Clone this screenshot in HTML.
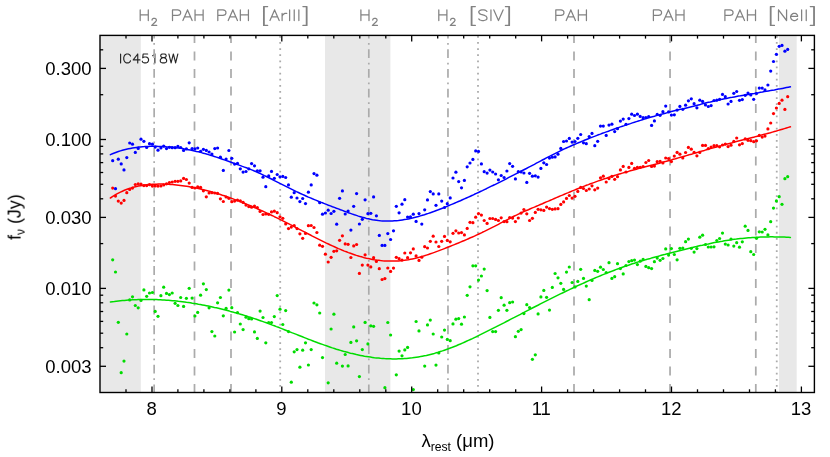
<!DOCTYPE html>
<html><head><meta charset="utf-8"><title>IC4518W</title>
<style>
html,body{margin:0;padding:0;background:#fff;}
body{width:830px;height:457px;overflow:hidden;font-family:"Liberation Sans",sans-serif;}
svg{display:block;}
text{font-family:"Liberation Sans",sans-serif;fill:#000;}
</style></head><body>
<svg width="830" height="457" viewBox="0 0 830 457">
<rect x="0" y="0" width="830" height="457" fill="#fff"/>
<rect x="100.0" y="35.4" width="40.8" height="357.1" fill="#e8e8e8"/>
<rect x="325.0" y="35.4" width="65.4" height="357.1" fill="#e8e8e8"/>
<rect x="779.0" y="35.4" width="17.7" height="357.1" fill="#e8e8e8"/>
<path d="M120.60 53.98 L120.60 62.90 M130.52 56.10 L130.07 55.25 L129.17 54.40 L128.27 53.98 L126.46 53.98 L125.56 54.40 L124.66 55.25 L124.21 56.10 L123.76 57.38 L123.76 59.50 L124.21 60.77 L124.66 61.62 L125.56 62.48 L126.46 62.90 L128.27 62.90 L129.17 62.48 L130.07 61.62 L130.52 60.77 M137.74 53.98 L133.23 59.92 L139.99 59.92 M137.74 53.98 L137.74 62.90 M147.66 53.98 L143.15 53.98 L142.70 57.80 L143.15 57.38 L144.50 56.95 L145.86 56.95 L147.21 57.38 L148.11 58.23 L148.56 59.50 L148.56 60.35 L148.11 61.62 L147.21 62.48 L145.86 62.90 L144.50 62.90 L143.15 62.48 L142.70 62.05 L142.25 61.20 M152.62 55.67 L153.52 55.25 L154.88 53.98 L154.88 62.90 M162.54 53.98 L161.19 54.40 L160.74 55.25 L160.74 56.10 L161.19 56.95 L162.09 57.38 L163.90 57.80 L165.25 58.23 L166.15 59.07 L166.60 59.92 L166.60 61.20 L166.15 62.05 L165.70 62.48 L164.35 62.90 L162.54 62.90 L161.19 62.48 L160.74 62.05 L160.29 61.20 L160.29 59.92 L160.74 59.07 L161.64 58.23 L162.99 57.80 L164.80 57.38 L165.70 56.95 L166.15 56.10 L166.15 55.25 L165.70 54.40 L164.35 53.98 L162.54 53.98 M168.86 53.98 L171.11 62.90 M173.37 53.98 L171.11 62.90 M173.37 53.98 L175.62 62.90 M177.88 53.98 L175.62 62.90" fill="none" stroke="#262626" stroke-width="1.15" stroke-linecap="round" stroke-linejoin="round"/>
<g stroke="#ababab" fill="none" clip-path="url(#pc)">
<line x1="194.5" y1="16.6" x2="194.5" y2="392.5" stroke-width="1.75" stroke-dasharray="8.9 8.6"/>
<line x1="231.0" y1="16.6" x2="231.0" y2="392.5" stroke-width="1.75" stroke-dasharray="8.9 8.6"/>
<line x1="574.0" y1="16.6" x2="574.0" y2="392.5" stroke-width="1.75" stroke-dasharray="8.9 8.6"/>
<line x1="670.05" y1="16.6" x2="670.05" y2="392.5" stroke-width="1.75" stroke-dasharray="8.9 8.6"/>
<line x1="755.8" y1="16.6" x2="755.8" y2="392.5" stroke-width="1.75" stroke-dasharray="8.9 8.6"/>
<line x1="154.15" y1="9.76" x2="154.15" y2="392.5" stroke-width="1.7" stroke-dasharray="8.9 4.6 1.8 4.42"/>
<line x1="368.8" y1="9.76" x2="368.8" y2="392.5" stroke-width="1.7" stroke-dasharray="8.9 4.6 1.8 4.42"/>
<line x1="447.97" y1="9.76" x2="447.97" y2="392.5" stroke-width="1.7" stroke-dasharray="8.9 4.6 1.8 4.42"/>
<line x1="280.2" y1="29.75" x2="280.2" y2="392.5" stroke-width="1.8" stroke-dasharray="1.8 4.325"/>
<line x1="478.0" y1="29.75" x2="478.0" y2="392.5" stroke-width="1.8" stroke-dasharray="1.8 4.325"/>
<line x1="776.75" y1="29.75" x2="776.75" y2="392.5" stroke-width="1.8" stroke-dasharray="1.8 4.325"/>
</g>
<defs><clipPath id="pc"><rect x="100.0" y="35.4" width="714.4" height="357.1"/></clipPath></defs>
<g clip-path="url(#pc)">
<g fill="#00dc00"><circle cx="112.7" cy="259.8" r="1.6"/><circle cx="115.5" cy="272.0" r="1.6"/><circle cx="118.3" cy="322.3" r="1.6"/><circle cx="121.2" cy="372.7" r="1.6"/><circle cx="124.0" cy="361.1" r="1.6"/><circle cx="126.8" cy="334.0" r="1.6"/><circle cx="129.7" cy="299.9" r="1.6"/><circle cx="132.5" cy="296.8" r="1.6"/><circle cx="135.3" cy="305.5" r="1.6"/><circle cx="138.2" cy="307.8" r="1.6"/><circle cx="141.0" cy="300.4" r="1.6"/><circle cx="143.9" cy="289.9" r="1.6"/><circle cx="146.7" cy="296.3" r="1.6"/><circle cx="149.5" cy="293.0" r="1.6"/><circle cx="152.4" cy="292.5" r="1.6"/><circle cx="155.2" cy="311.4" r="1.6"/><circle cx="158.0" cy="316.3" r="1.6"/><circle cx="160.9" cy="295.7" r="1.6"/><circle cx="163.7" cy="287.2" r="1.6"/><circle cx="166.5" cy="293.4" r="1.6"/><circle cx="169.4" cy="294.6" r="1.6"/><circle cx="172.2" cy="293.0" r="1.6"/><circle cx="175.1" cy="303.3" r="1.6"/><circle cx="177.9" cy="305.5" r="1.6"/><circle cx="180.7" cy="297.5" r="1.6"/><circle cx="183.6" cy="306.4" r="1.6"/><circle cx="186.4" cy="298.3" r="1.6"/><circle cx="189.2" cy="288.3" r="1.6"/><circle cx="192.1" cy="298.1" r="1.6"/><circle cx="194.9" cy="316.0" r="1.6"/><circle cx="197.7" cy="312.4" r="1.6"/><circle cx="200.6" cy="295.2" r="1.6"/><circle cx="203.4" cy="283.8" r="1.6"/><circle cx="206.3" cy="289.6" r="1.6"/><circle cx="209.1" cy="307.8" r="1.6"/><circle cx="211.9" cy="331.6" r="1.6"/><circle cx="214.8" cy="336.0" r="1.6"/><circle cx="217.6" cy="302.8" r="1.6"/><circle cx="220.4" cy="297.5" r="1.6"/><circle cx="223.3" cy="315.8" r="1.6"/><circle cx="226.1" cy="308.4" r="1.6"/><circle cx="228.9" cy="290.1" r="1.6"/><circle cx="231.8" cy="307.7" r="1.6"/><circle cx="234.6" cy="332.0" r="1.6"/><circle cx="237.5" cy="312.7" r="1.6"/><circle cx="240.3" cy="324.0" r="1.6"/><circle cx="243.1" cy="329.6" r="1.6"/><circle cx="246.0" cy="317.2" r="1.6"/><circle cx="248.8" cy="318.7" r="1.6"/><circle cx="251.6" cy="318.9" r="1.6"/><circle cx="254.5" cy="331.9" r="1.6"/><circle cx="257.3" cy="338.4" r="1.6"/><circle cx="260.1" cy="311.1" r="1.6"/><circle cx="263.0" cy="317.5" r="1.6"/><circle cx="265.8" cy="342.8" r="1.6"/><circle cx="268.7" cy="322.5" r="1.6"/><circle cx="271.5" cy="322.5" r="1.6"/><circle cx="274.3" cy="316.6" r="1.6"/><circle cx="277.2" cy="295.6" r="1.6"/><circle cx="280.0" cy="309.2" r="1.6"/><circle cx="282.8" cy="324.5" r="1.6"/><circle cx="285.7" cy="310.6" r="1.6"/><circle cx="288.5" cy="331.6" r="1.6"/><circle cx="291.3" cy="382.2" r="1.6"/><circle cx="294.2" cy="351.8" r="1.6"/><circle cx="297.0" cy="349.6" r="1.6"/><circle cx="299.9" cy="367.2" r="1.6"/><circle cx="302.7" cy="350.2" r="1.6"/><circle cx="305.5" cy="342.8" r="1.6"/><circle cx="308.4" cy="365.0" r="1.6"/><circle cx="311.2" cy="349.6" r="1.6"/><circle cx="314.0" cy="303.0" r="1.6"/><circle cx="316.9" cy="304.8" r="1.6"/><circle cx="319.7" cy="313.0" r="1.6"/><circle cx="322.5" cy="357.6" r="1.6"/><circle cx="328.2" cy="382.8" r="1.6"/><circle cx="331.1" cy="329.0" r="1.6"/><circle cx="333.9" cy="314.2" r="1.6"/><circle cx="336.7" cy="363.2" r="1.6"/><circle cx="342.4" cy="366.1" r="1.6"/><circle cx="345.2" cy="354.5" r="1.6"/><circle cx="348.1" cy="365.9" r="1.6"/><circle cx="350.9" cy="342.4" r="1.6"/><circle cx="353.7" cy="326.9" r="1.6"/><circle cx="356.6" cy="340.8" r="1.6"/><circle cx="359.4" cy="376.6" r="1.6"/><circle cx="362.3" cy="349.6" r="1.6"/><circle cx="365.1" cy="322.4" r="1.6"/><circle cx="367.9" cy="343.9" r="1.6"/><circle cx="370.8" cy="325.8" r="1.6"/><circle cx="373.6" cy="326.3" r="1.6"/><circle cx="384.9" cy="387.7" r="1.6"/><circle cx="387.8" cy="322.5" r="1.6"/><circle cx="390.6" cy="335.0" r="1.6"/><circle cx="396.3" cy="374.8" r="1.6"/><circle cx="399.1" cy="351.1" r="1.6"/><circle cx="402.0" cy="355.8" r="1.6"/><circle cx="404.8" cy="349.9" r="1.6"/><circle cx="407.6" cy="347.4" r="1.6"/><circle cx="413.3" cy="389.6" r="1.6"/><circle cx="416.1" cy="321.5" r="1.6"/><circle cx="419.0" cy="330.9" r="1.6"/><circle cx="424.7" cy="366.1" r="1.6"/><circle cx="427.5" cy="324.9" r="1.6"/><circle cx="430.3" cy="320.1" r="1.6"/><circle cx="433.2" cy="334.0" r="1.6"/><circle cx="436.0" cy="365.1" r="1.6"/><circle cx="438.8" cy="353.0" r="1.6"/><circle cx="441.7" cy="337.0" r="1.6"/><circle cx="444.5" cy="330.1" r="1.6"/><circle cx="447.3" cy="339.4" r="1.6"/><circle cx="450.2" cy="340.7" r="1.6"/><circle cx="453.0" cy="323.9" r="1.6"/><circle cx="455.9" cy="319.2" r="1.6"/><circle cx="458.7" cy="318.6" r="1.6"/><circle cx="461.5" cy="324.2" r="1.6"/><circle cx="464.4" cy="317.0" r="1.6"/><circle cx="467.2" cy="295.3" r="1.6"/><circle cx="470.0" cy="286.8" r="1.6"/><circle cx="472.9" cy="265.8" r="1.6"/><circle cx="475.7" cy="265.8" r="1.6"/><circle cx="478.5" cy="280.1" r="1.6"/><circle cx="481.4" cy="276.0" r="1.6"/><circle cx="484.2" cy="269.1" r="1.6"/><circle cx="487.1" cy="290.6" r="1.6"/><circle cx="489.9" cy="317.4" r="1.6"/><circle cx="492.7" cy="331.6" r="1.6"/><circle cx="495.6" cy="331.6" r="1.6"/><circle cx="498.4" cy="310.3" r="1.6"/><circle cx="501.2" cy="297.7" r="1.6"/><circle cx="504.1" cy="305.2" r="1.6"/><circle cx="506.9" cy="310.3" r="1.6"/><circle cx="509.7" cy="302.7" r="1.6"/><circle cx="512.6" cy="302.0" r="1.6"/><circle cx="515.4" cy="336.7" r="1.6"/><circle cx="518.3" cy="331.3" r="1.6"/><circle cx="521.1" cy="329.6" r="1.6"/><circle cx="523.9" cy="313.6" r="1.6"/><circle cx="526.8" cy="304.7" r="1.6"/><circle cx="529.6" cy="307.6" r="1.6"/><circle cx="532.4" cy="359.3" r="1.6"/><circle cx="535.3" cy="354.8" r="1.6"/><circle cx="538.1" cy="313.9" r="1.6"/><circle cx="540.9" cy="296.9" r="1.6"/><circle cx="543.8" cy="290.4" r="1.6"/><circle cx="546.6" cy="297.3" r="1.6"/><circle cx="549.5" cy="310.1" r="1.6"/><circle cx="552.3" cy="287.4" r="1.6"/><circle cx="555.1" cy="273.5" r="1.6"/><circle cx="558.0" cy="277.8" r="1.6"/><circle cx="560.8" cy="283.3" r="1.6"/><circle cx="563.6" cy="289.4" r="1.6"/><circle cx="566.5" cy="272.1" r="1.6"/><circle cx="569.3" cy="267.0" r="1.6"/><circle cx="572.1" cy="282.5" r="1.6"/><circle cx="575.0" cy="286.9" r="1.6"/><circle cx="577.8" cy="281.4" r="1.6"/><circle cx="580.7" cy="269.3" r="1.6"/><circle cx="583.5" cy="278.4" r="1.6"/><circle cx="586.3" cy="286.1" r="1.6"/><circle cx="589.2" cy="299.7" r="1.6"/><circle cx="592.0" cy="280.4" r="1.6"/><circle cx="594.8" cy="270.4" r="1.6"/><circle cx="597.7" cy="271.3" r="1.6"/><circle cx="600.5" cy="267.2" r="1.6"/><circle cx="603.3" cy="269.5" r="1.6"/><circle cx="606.2" cy="272.6" r="1.6"/><circle cx="609.0" cy="262.7" r="1.6"/><circle cx="611.9" cy="278.4" r="1.6"/><circle cx="614.7" cy="276.7" r="1.6"/><circle cx="617.5" cy="263.7" r="1.6"/><circle cx="620.4" cy="268.6" r="1.6"/><circle cx="623.2" cy="273.9" r="1.6"/><circle cx="626.0" cy="265.5" r="1.6"/><circle cx="628.9" cy="261.6" r="1.6"/><circle cx="631.7" cy="260.7" r="1.6"/><circle cx="634.5" cy="260.1" r="1.6"/><circle cx="637.4" cy="264.6" r="1.6"/><circle cx="640.2" cy="261.2" r="1.6"/><circle cx="643.1" cy="259.4" r="1.6"/><circle cx="645.9" cy="266.4" r="1.6"/><circle cx="648.7" cy="267.7" r="1.6"/><circle cx="651.6" cy="268.6" r="1.6"/><circle cx="654.4" cy="261.7" r="1.6"/><circle cx="657.2" cy="258.1" r="1.6"/><circle cx="660.1" cy="260.3" r="1.6"/><circle cx="662.9" cy="258.5" r="1.6"/><circle cx="665.7" cy="248.9" r="1.6"/><circle cx="668.6" cy="255.1" r="1.6"/><circle cx="671.4" cy="248.6" r="1.6"/><circle cx="674.3" cy="254.5" r="1.6"/><circle cx="677.1" cy="259.8" r="1.6"/><circle cx="679.9" cy="248.3" r="1.6"/><circle cx="682.8" cy="248.0" r="1.6"/><circle cx="685.6" cy="241.7" r="1.6"/><circle cx="688.4" cy="239.1" r="1.6"/><circle cx="691.3" cy="248.3" r="1.6"/><circle cx="694.1" cy="252.1" r="1.6"/><circle cx="696.9" cy="248.6" r="1.6"/><circle cx="699.8" cy="237.2" r="1.6"/><circle cx="702.6" cy="235.2" r="1.6"/><circle cx="705.5" cy="244.5" r="1.6"/><circle cx="708.3" cy="247.0" r="1.6"/><circle cx="711.1" cy="247.0" r="1.6"/><circle cx="714.0" cy="246.8" r="1.6"/><circle cx="716.8" cy="240.5" r="1.6"/><circle cx="719.6" cy="238.5" r="1.6"/><circle cx="722.5" cy="233.1" r="1.6"/><circle cx="725.3" cy="244.1" r="1.6"/><circle cx="728.1" cy="245.0" r="1.6"/><circle cx="731.0" cy="239.0" r="1.6"/><circle cx="733.8" cy="246.1" r="1.6"/><circle cx="736.7" cy="242.7" r="1.6"/><circle cx="739.5" cy="247.2" r="1.6"/><circle cx="742.3" cy="241.8" r="1.6"/><circle cx="745.2" cy="226.2" r="1.6"/><circle cx="748.0" cy="230.4" r="1.6"/><circle cx="750.8" cy="251.7" r="1.6"/><circle cx="753.7" cy="254.5" r="1.6"/><circle cx="756.5" cy="238.3" r="1.6"/><circle cx="759.3" cy="231.8" r="1.6"/><circle cx="762.2" cy="232.0" r="1.6"/><circle cx="765.0" cy="229.3" r="1.6"/><circle cx="767.9" cy="234.9" r="1.6"/><circle cx="770.7" cy="221.7" r="1.6"/><circle cx="773.5" cy="208.1" r="1.6"/><circle cx="776.4" cy="200.9" r="1.6"/><circle cx="779.2" cy="196.7" r="1.6"/><circle cx="782.0" cy="204.3" r="1.6"/><circle cx="784.9" cy="178.7" r="1.6"/><circle cx="787.7" cy="176.7" r="1.6"/></g>
<polyline points="110.4,302.0 112.4,301.7 114.4,301.5 116.4,301.2 118.4,301.0 120.4,300.8 122.4,300.6 124.4,300.4 126.4,300.2 128.4,300.1 130.4,300.0 132.4,299.8 134.4,299.7 136.4,299.7 138.4,299.6 140.4,299.5 142.4,299.5 144.4,299.5 146.4,299.5 148.4,299.5 150.4,299.5 152.4,299.5 154.4,299.6 156.4,299.6 158.4,299.7 160.4,299.8 162.4,299.9 164.4,300.0 166.4,300.2 168.4,300.3 170.4,300.5 172.4,300.7 174.4,300.8 176.4,301.0 178.4,301.3 180.4,301.5 182.4,301.7 184.4,302.0 186.4,302.3 188.4,302.5 190.4,302.8 192.4,303.2 194.4,303.5 196.4,303.8 198.4,304.2 200.4,304.5 202.4,304.9 204.4,305.3 206.4,305.7 208.4,306.1 210.4,306.5 212.4,306.9 214.4,307.4 216.4,307.8 218.4,308.3 220.4,308.8 222.4,309.3 224.4,309.8 226.4,310.3 228.4,310.8 230.4,311.4 232.4,311.9 234.4,312.5 236.4,313.0 238.4,313.6 240.4,314.2 242.4,314.8 244.4,315.4 246.4,316.0 248.4,316.7 250.4,317.3 252.4,318.0 254.4,318.6 256.4,319.3 258.4,320.0 260.4,320.7 262.4,321.4 264.4,322.1 266.4,322.8 268.4,323.6 270.4,324.3 272.4,325.1 274.4,325.8 276.4,326.6 278.4,327.3 280.4,328.1 282.4,328.9 284.4,329.7 286.4,330.5 288.4,331.3 290.4,332.1 292.4,332.9 294.4,333.6 296.4,334.4 298.4,335.2 300.4,336.0 302.4,336.8 304.4,337.6 306.4,338.4 308.4,339.2 310.4,339.9 312.4,340.7 314.4,341.5 316.4,342.2 318.4,343.0 320.4,343.7 322.4,344.4 324.4,345.1 326.4,345.8 328.4,346.5 330.4,347.2 332.4,347.9 334.4,348.5 336.4,349.2 338.4,349.8 340.4,350.4 342.4,351.0 344.4,351.6 346.4,352.1 348.4,352.6 350.4,353.2 352.4,353.6 354.4,354.1 356.4,354.6 358.4,355.0 360.4,355.4 362.4,355.8 364.4,356.2 366.4,356.5 368.4,356.8 370.4,357.1 372.4,357.4 374.4,357.7 376.4,357.9 378.4,358.1 380.4,358.3 382.4,358.4 384.4,358.6 386.4,358.7 388.4,358.8 390.4,358.8 392.4,358.9 394.4,358.9 396.4,358.9 398.4,358.8 400.4,358.7 402.4,358.7 404.4,358.5 406.4,358.4 408.4,358.2 410.4,358.0 412.4,357.8 414.4,357.5 416.4,357.2 418.4,356.9 420.4,356.6 422.4,356.2 424.4,355.8 426.4,355.4 428.4,354.9 430.4,354.4 432.4,353.9 434.4,353.4 436.4,352.8 438.4,352.2 440.4,351.5 442.4,350.9 444.4,350.2 446.4,349.5 448.4,348.8 450.4,348.0 452.4,347.3 454.4,346.5 456.4,345.7 458.4,344.8 460.4,344.0 462.4,343.1 464.4,342.2 466.4,341.3 468.4,340.4 470.4,339.5 472.4,338.6 474.4,337.6 476.4,336.7 478.4,335.7 480.4,334.7 482.4,333.7 484.4,332.7 486.4,331.7 488.4,330.7 490.4,329.7 492.4,328.7 494.4,327.7 496.4,326.7 498.4,325.6 500.4,324.6 502.4,323.6 504.4,322.6 506.4,321.5 508.4,320.5 510.4,319.4 512.4,318.4 514.4,317.4 516.4,316.3 518.4,315.3 520.4,314.3 522.4,313.2 524.4,312.2 526.4,311.1 528.4,310.1 530.4,309.1 532.4,308.0 534.4,307.0 536.4,306.0 538.4,305.0 540.4,303.9 542.4,302.9 544.4,301.9 546.4,300.9 548.4,299.9 550.4,298.9 552.4,297.9 554.4,296.9 556.4,295.9 558.4,294.9 560.4,293.9 562.4,293.0 564.4,292.0 566.4,291.0 568.4,290.1 570.4,289.1 572.4,288.2 574.4,287.3 576.4,286.3 578.4,285.4 580.4,284.5 582.4,283.6 584.4,282.7 586.4,281.8 588.4,280.9 590.4,280.0 592.4,279.1 594.4,278.3 596.4,277.4 598.4,276.6 600.4,275.8 602.4,274.9 604.4,274.1 606.4,273.3 608.4,272.5 610.4,271.7 612.4,271.0 614.4,270.2 616.4,269.4 618.4,268.7 620.4,268.0 622.4,267.2 624.4,266.5 626.4,265.8 628.4,265.2 630.4,264.5 632.4,263.8 634.4,263.2 636.4,262.5 638.4,261.9 640.4,261.3 642.4,260.7 644.4,260.1 646.4,259.5 648.4,258.9 650.4,258.4 652.4,257.8 654.4,257.2 656.4,256.7 658.4,256.2 660.4,255.6 662.4,255.1 664.4,254.6 666.4,254.0 668.4,253.5 670.4,253.0 672.4,252.5 674.4,252.0 676.4,251.5 678.4,251.0 680.4,250.5 682.4,250.0 684.4,249.5 686.4,249.0 688.4,248.5 690.4,248.0 692.4,247.5 694.4,247.0 696.4,246.6 698.4,246.1 700.4,245.6 702.4,245.2 704.4,244.7 706.4,244.3 708.4,243.9 710.4,243.4 712.4,243.0 714.4,242.6 716.4,242.3 718.4,241.9 720.4,241.5 722.4,241.2 724.4,240.8 726.4,240.5 728.4,240.2 730.4,239.9 732.4,239.6 734.4,239.3 736.4,239.1 738.4,238.8 740.4,238.6 742.4,238.4 744.4,238.2 746.4,238.0 748.4,237.8 750.4,237.7 752.4,237.5 754.4,237.4 756.4,237.3 758.4,237.2 760.4,237.1 762.4,237.0 764.4,236.9 766.4,236.9 768.4,236.9 770.4,236.8 772.4,236.8 774.4,236.9 776.4,236.9 778.4,236.9 780.4,237.0 782.4,237.0 784.4,237.1 786.4,237.2 788.4,237.3 790.4,237.4" fill="none" stroke="#00dc00" stroke-width="1.5" stroke-linejoin="round" stroke-linecap="round"/>
<g fill="#ff0000"><circle cx="112.7" cy="188.1" r="1.6"/><circle cx="115.5" cy="196.1" r="1.6"/><circle cx="118.3" cy="201.1" r="1.6"/><circle cx="121.2" cy="203.1" r="1.6"/><circle cx="124.0" cy="200.4" r="1.6"/><circle cx="126.8" cy="192.7" r="1.6"/><circle cx="129.7" cy="189.4" r="1.6"/><circle cx="132.5" cy="188.1" r="1.6"/><circle cx="135.3" cy="184.5" r="1.6"/><circle cx="138.2" cy="183.8" r="1.6"/><circle cx="141.0" cy="184.2" r="1.6"/><circle cx="143.9" cy="185.6" r="1.6"/><circle cx="146.7" cy="185.6" r="1.6"/><circle cx="149.5" cy="184.7" r="1.6"/><circle cx="152.4" cy="186.1" r="1.6"/><circle cx="155.2" cy="186.0" r="1.6"/><circle cx="158.0" cy="186.1" r="1.6"/><circle cx="160.9" cy="186.0" r="1.6"/><circle cx="163.7" cy="184.9" r="1.6"/><circle cx="166.5" cy="183.8" r="1.6"/><circle cx="169.4" cy="182.5" r="1.6"/><circle cx="172.2" cy="182.0" r="1.6"/><circle cx="175.1" cy="181.3" r="1.6"/><circle cx="177.9" cy="181.3" r="1.6"/><circle cx="180.7" cy="180.9" r="1.6"/><circle cx="183.6" cy="178.4" r="1.6"/><circle cx="186.4" cy="179.5" r="1.6"/><circle cx="189.2" cy="183.1" r="1.6"/><circle cx="192.1" cy="187.4" r="1.6"/><circle cx="194.9" cy="188.0" r="1.6"/><circle cx="197.7" cy="186.9" r="1.6"/><circle cx="200.6" cy="187.4" r="1.6"/><circle cx="203.4" cy="190.8" r="1.6"/><circle cx="206.3" cy="196.8" r="1.6"/><circle cx="209.1" cy="193.0" r="1.6"/><circle cx="211.9" cy="192.7" r="1.6"/><circle cx="214.8" cy="193.0" r="1.6"/><circle cx="217.6" cy="193.4" r="1.6"/><circle cx="220.4" cy="198.8" r="1.6"/><circle cx="223.3" cy="201.5" r="1.6"/><circle cx="226.1" cy="197.0" r="1.6"/><circle cx="228.9" cy="198.3" r="1.6"/><circle cx="231.8" cy="201.7" r="1.6"/><circle cx="234.6" cy="201.1" r="1.6"/><circle cx="237.5" cy="200.2" r="1.6"/><circle cx="240.3" cy="200.8" r="1.6"/><circle cx="243.1" cy="202.4" r="1.6"/><circle cx="246.0" cy="205.1" r="1.6"/><circle cx="248.8" cy="206.6" r="1.6"/><circle cx="251.6" cy="207.2" r="1.6"/><circle cx="254.5" cy="206.0" r="1.6"/><circle cx="257.3" cy="207.6" r="1.6"/><circle cx="260.1" cy="211.4" r="1.6"/><circle cx="263.0" cy="214.5" r="1.6"/><circle cx="265.8" cy="213.9" r="1.6"/><circle cx="268.7" cy="214.3" r="1.6"/><circle cx="271.5" cy="211.9" r="1.6"/><circle cx="274.3" cy="211.2" r="1.6"/><circle cx="277.2" cy="212.7" r="1.6"/><circle cx="280.0" cy="216.8" r="1.6"/><circle cx="282.8" cy="218.3" r="1.6"/><circle cx="285.7" cy="223.9" r="1.6"/><circle cx="288.5" cy="228.6" r="1.6"/><circle cx="291.3" cy="227.1" r="1.6"/><circle cx="294.2" cy="225.7" r="1.6"/><circle cx="297.0" cy="228.6" r="1.6"/><circle cx="299.9" cy="233.8" r="1.6"/><circle cx="302.7" cy="238.3" r="1.6"/><circle cx="305.5" cy="233.4" r="1.6"/><circle cx="308.4" cy="225.7" r="1.6"/><circle cx="311.2" cy="225.5" r="1.6"/><circle cx="314.0" cy="227.5" r="1.6"/><circle cx="316.9" cy="232.5" r="1.6"/><circle cx="319.7" cy="245.2" r="1.6"/><circle cx="322.5" cy="246.3" r="1.6"/><circle cx="325.4" cy="254.2" r="1.6"/><circle cx="328.2" cy="262.0" r="1.6"/><circle cx="331.1" cy="257.3" r="1.6"/><circle cx="333.9" cy="251.3" r="1.6"/><circle cx="336.7" cy="250.8" r="1.6"/><circle cx="339.6" cy="240.3" r="1.6"/><circle cx="342.4" cy="235.8" r="1.6"/><circle cx="345.2" cy="243.9" r="1.6"/><circle cx="348.1" cy="244.3" r="1.6"/><circle cx="350.9" cy="257.5" r="1.6"/><circle cx="353.7" cy="245.9" r="1.6"/><circle cx="356.6" cy="244.5" r="1.6"/><circle cx="359.4" cy="273.4" r="1.6"/><circle cx="362.3" cy="265.1" r="1.6"/><circle cx="365.1" cy="254.8" r="1.6"/><circle cx="367.9" cy="265.1" r="1.6"/><circle cx="370.8" cy="266.9" r="1.6"/><circle cx="373.6" cy="257.7" r="1.6"/><circle cx="376.4" cy="261.4" r="1.6"/><circle cx="379.3" cy="268.7" r="1.6"/><circle cx="382.1" cy="279.5" r="1.6"/><circle cx="384.9" cy="278.6" r="1.6"/><circle cx="387.8" cy="268.0" r="1.6"/><circle cx="390.6" cy="271.4" r="1.6"/><circle cx="393.5" cy="268.1" r="1.6"/><circle cx="396.3" cy="257.3" r="1.6"/><circle cx="399.1" cy="258.7" r="1.6"/><circle cx="402.0" cy="260.1" r="1.6"/><circle cx="404.8" cy="253.0" r="1.6"/><circle cx="407.6" cy="257.7" r="1.6"/><circle cx="410.5" cy="252.8" r="1.6"/><circle cx="413.3" cy="248.9" r="1.6"/><circle cx="416.1" cy="255.9" r="1.6"/><circle cx="419.0" cy="260.4" r="1.6"/><circle cx="421.8" cy="257.2" r="1.6"/><circle cx="424.7" cy="246.7" r="1.6"/><circle cx="427.5" cy="248.0" r="1.6"/><circle cx="430.3" cy="241.3" r="1.6"/><circle cx="433.2" cy="236.2" r="1.6"/><circle cx="436.0" cy="242.0" r="1.6"/><circle cx="438.8" cy="246.5" r="1.6"/><circle cx="441.7" cy="241.3" r="1.6"/><circle cx="444.5" cy="236.4" r="1.6"/><circle cx="447.3" cy="240.4" r="1.6"/><circle cx="450.2" cy="241.8" r="1.6"/><circle cx="453.0" cy="233.3" r="1.6"/><circle cx="455.9" cy="230.8" r="1.6"/><circle cx="458.7" cy="233.0" r="1.6"/><circle cx="461.5" cy="232.6" r="1.6"/><circle cx="464.4" cy="234.9" r="1.6"/><circle cx="467.2" cy="228.4" r="1.6"/><circle cx="470.0" cy="222.3" r="1.6"/><circle cx="472.9" cy="222.7" r="1.6"/><circle cx="475.7" cy="217.2" r="1.6"/><circle cx="478.5" cy="213.6" r="1.6"/><circle cx="481.4" cy="215.1" r="1.6"/><circle cx="484.2" cy="220.5" r="1.6"/><circle cx="487.1" cy="223.4" r="1.6"/><circle cx="489.9" cy="218.5" r="1.6"/><circle cx="492.7" cy="218.5" r="1.6"/><circle cx="495.6" cy="219.4" r="1.6"/><circle cx="498.4" cy="220.5" r="1.6"/><circle cx="501.2" cy="217.8" r="1.6"/><circle cx="504.1" cy="221.6" r="1.6"/><circle cx="506.9" cy="221.7" r="1.6"/><circle cx="509.7" cy="217.6" r="1.6"/><circle cx="512.6" cy="218.1" r="1.6"/><circle cx="515.4" cy="221.6" r="1.6"/><circle cx="518.3" cy="218.0" r="1.6"/><circle cx="521.1" cy="213.1" r="1.6"/><circle cx="523.9" cy="209.5" r="1.6"/><circle cx="526.8" cy="213.8" r="1.6"/><circle cx="529.6" cy="220.5" r="1.6"/><circle cx="532.4" cy="218.3" r="1.6"/><circle cx="535.3" cy="212.4" r="1.6"/><circle cx="538.1" cy="209.3" r="1.6"/><circle cx="540.9" cy="209.8" r="1.6"/><circle cx="543.8" cy="210.4" r="1.6"/><circle cx="546.6" cy="207.1" r="1.6"/><circle cx="549.5" cy="208.6" r="1.6"/><circle cx="552.3" cy="209.3" r="1.6"/><circle cx="555.1" cy="208.9" r="1.6"/><circle cx="558.0" cy="208.7" r="1.6"/><circle cx="560.8" cy="204.4" r="1.6"/><circle cx="563.6" cy="201.9" r="1.6"/><circle cx="566.5" cy="198.4" r="1.6"/><circle cx="569.3" cy="195.5" r="1.6"/><circle cx="572.1" cy="198.1" r="1.6"/><circle cx="575.0" cy="196.3" r="1.6"/><circle cx="577.8" cy="191.4" r="1.6"/><circle cx="580.7" cy="187.4" r="1.6"/><circle cx="583.5" cy="188.5" r="1.6"/><circle cx="586.3" cy="190.5" r="1.6"/><circle cx="589.2" cy="189.0" r="1.6"/><circle cx="592.0" cy="185.8" r="1.6"/><circle cx="594.8" cy="189.8" r="1.6"/><circle cx="597.7" cy="188.1" r="1.6"/><circle cx="600.5" cy="177.8" r="1.6"/><circle cx="603.3" cy="176.2" r="1.6"/><circle cx="606.2" cy="182.0" r="1.6"/><circle cx="609.0" cy="178.6" r="1.6"/><circle cx="611.9" cy="176.4" r="1.6"/><circle cx="614.7" cy="179.3" r="1.6"/><circle cx="617.5" cy="176.7" r="1.6"/><circle cx="620.4" cy="169.9" r="1.6"/><circle cx="623.2" cy="166.4" r="1.6"/><circle cx="626.0" cy="172.0" r="1.6"/><circle cx="628.9" cy="167.4" r="1.6"/><circle cx="631.7" cy="163.4" r="1.6"/><circle cx="634.5" cy="168.3" r="1.6"/><circle cx="637.4" cy="167.4" r="1.6"/><circle cx="640.2" cy="167.4" r="1.6"/><circle cx="643.1" cy="166.6" r="1.6"/><circle cx="645.9" cy="162.5" r="1.6"/><circle cx="648.7" cy="160.5" r="1.6"/><circle cx="651.6" cy="166.4" r="1.6"/><circle cx="654.4" cy="166.1" r="1.6"/><circle cx="657.2" cy="161.7" r="1.6"/><circle cx="660.1" cy="161.4" r="1.6"/><circle cx="662.9" cy="163.0" r="1.6"/><circle cx="665.7" cy="158.0" r="1.6"/><circle cx="668.6" cy="158.5" r="1.6"/><circle cx="671.4" cy="161.6" r="1.6"/><circle cx="674.3" cy="156.1" r="1.6"/><circle cx="677.1" cy="152.4" r="1.6"/><circle cx="679.9" cy="154.2" r="1.6"/><circle cx="682.8" cy="157.9" r="1.6"/><circle cx="685.6" cy="152.5" r="1.6"/><circle cx="688.4" cy="147.4" r="1.6"/><circle cx="691.3" cy="149.2" r="1.6"/><circle cx="694.1" cy="152.4" r="1.6"/><circle cx="696.9" cy="155.8" r="1.6"/><circle cx="699.8" cy="152.4" r="1.6"/><circle cx="702.6" cy="145.4" r="1.6"/><circle cx="705.5" cy="145.4" r="1.6"/><circle cx="708.3" cy="148.6" r="1.6"/><circle cx="711.1" cy="147.0" r="1.6"/><circle cx="714.0" cy="145.7" r="1.6"/><circle cx="716.8" cy="145.7" r="1.6"/><circle cx="719.6" cy="146.8" r="1.6"/><circle cx="722.5" cy="145.0" r="1.6"/><circle cx="725.3" cy="144.1" r="1.6"/><circle cx="728.1" cy="146.6" r="1.6"/><circle cx="731.0" cy="145.2" r="1.6"/><circle cx="733.8" cy="141.4" r="1.6"/><circle cx="736.7" cy="138.0" r="1.6"/><circle cx="739.5" cy="144.8" r="1.6"/><circle cx="742.3" cy="143.6" r="1.6"/><circle cx="745.2" cy="138.9" r="1.6"/><circle cx="748.0" cy="140.3" r="1.6"/><circle cx="750.8" cy="140.7" r="1.6"/><circle cx="753.7" cy="141.7" r="1.6"/><circle cx="756.5" cy="140.8" r="1.6"/><circle cx="759.3" cy="135.4" r="1.6"/><circle cx="762.2" cy="137.1" r="1.6"/><circle cx="765.0" cy="136.1" r="1.6"/><circle cx="767.9" cy="128.9" r="1.6"/><circle cx="770.7" cy="123.0" r="1.6"/><circle cx="773.5" cy="113.6" r="1.6"/><circle cx="776.4" cy="108.0" r="1.6"/><circle cx="779.2" cy="103.4" r="1.6"/><circle cx="782.0" cy="100.2" r="1.6"/><circle cx="784.9" cy="109.4" r="1.6"/><circle cx="787.7" cy="96.7" r="1.6"/></g>
<polyline points="110.4,198.0 112.4,196.7 114.4,195.4 116.4,194.2 118.4,193.1 120.4,192.1 122.4,191.2 124.4,190.3 126.4,189.5 128.4,188.8 130.4,188.1 132.4,187.5 134.4,187.0 136.4,186.5 138.4,186.1 140.4,185.7 142.4,185.4 144.4,185.1 146.4,184.8 148.4,184.6 150.4,184.5 152.4,184.3 154.4,184.2 156.4,184.2 158.4,184.1 160.4,184.1 162.4,184.1 164.4,184.2 166.4,184.2 168.4,184.3 170.4,184.5 172.4,184.6 174.4,184.8 176.4,185.0 178.4,185.2 180.4,185.4 182.4,185.7 184.4,186.0 186.4,186.3 188.4,186.6 190.4,186.9 192.4,187.3 194.4,187.7 196.4,188.1 198.4,188.5 200.4,189.0 202.4,189.5 204.4,190.0 206.4,190.5 208.4,191.0 210.4,191.5 212.4,192.1 214.4,192.7 216.4,193.3 218.4,193.9 220.4,194.5 222.4,195.2 224.4,195.8 226.4,196.5 228.4,197.2 230.4,197.9 232.4,198.6 234.4,199.4 236.4,200.1 238.4,200.9 240.4,201.7 242.4,202.4 244.4,203.3 246.4,204.1 248.4,204.9 250.4,205.7 252.4,206.6 254.4,207.5 256.4,208.3 258.4,209.2 260.4,210.1 262.4,211.0 264.4,211.9 266.4,212.9 268.4,213.8 270.4,214.8 272.4,215.7 274.4,216.7 276.4,217.6 278.4,218.6 280.4,219.6 282.4,220.6 284.4,221.6 286.4,222.6 288.4,223.6 290.4,224.7 292.4,225.7 294.4,226.7 296.4,227.8 298.4,228.8 300.4,229.8 302.4,230.9 304.4,231.9 306.4,233.0 308.4,234.0 310.4,235.0 312.4,236.1 314.4,237.1 316.4,238.1 318.4,239.1 320.4,240.1 322.4,241.1 324.4,242.1 326.4,243.1 328.4,244.0 330.4,245.0 332.4,245.9 334.4,246.8 336.4,247.7 338.4,248.6 340.4,249.4 342.4,250.3 344.4,251.1 346.4,251.8 348.4,252.6 350.4,253.3 352.4,254.0 354.4,254.7 356.4,255.4 358.4,256.0 360.4,256.6 362.4,257.1 364.4,257.7 366.4,258.2 368.4,258.6 370.4,259.0 372.4,259.4 374.4,259.8 376.4,260.1 378.4,260.3 380.4,260.6 382.4,260.8 384.4,260.9 386.4,261.0 388.4,261.1 390.4,261.1 392.4,261.1 394.4,261.1 396.4,261.0 398.4,260.9 400.4,260.7 402.4,260.5 404.4,260.3 406.4,260.0 408.4,259.7 410.4,259.3 412.4,258.9 414.4,258.5 416.4,258.0 418.4,257.5 420.4,256.9 422.4,256.4 424.4,255.8 426.4,255.1 428.4,254.5 430.4,253.8 432.4,253.1 434.4,252.4 436.4,251.6 438.4,250.9 440.4,250.1 442.4,249.4 444.4,248.6 446.4,247.8 448.4,247.0 450.4,246.2 452.4,245.4 454.4,244.6 456.4,243.8 458.4,243.0 460.4,242.1 462.4,241.3 464.4,240.5 466.4,239.6 468.4,238.7 470.4,237.8 472.4,237.0 474.4,236.1 476.4,235.1 478.4,234.2 480.4,233.3 482.4,232.3 484.4,231.4 486.4,230.4 488.4,229.4 490.4,228.4 492.4,227.4 494.4,226.4 496.4,225.3 498.4,224.3 500.4,223.2 502.4,222.2 504.4,221.1 506.4,220.1 508.4,219.1 510.4,218.0 512.4,217.0 514.4,216.0 516.4,215.1 518.4,214.1 520.4,213.2 522.4,212.3 524.4,211.4 526.4,210.5 528.4,209.7 530.4,208.8 532.4,207.9 534.4,207.1 536.4,206.2 538.4,205.4 540.4,204.5 542.4,203.7 544.4,202.8 546.4,201.9 548.4,201.1 550.4,200.2 552.4,199.4 554.4,198.5 556.4,197.6 558.4,196.8 560.4,195.9 562.4,195.1 564.4,194.2 566.4,193.4 568.4,192.6 570.4,191.7 572.4,190.9 574.4,190.1 576.4,189.3 578.4,188.5 580.4,187.7 582.4,186.9 584.4,186.1 586.4,185.3 588.4,184.6 590.4,183.8 592.4,183.1 594.4,182.4 596.4,181.6 598.4,180.9 600.4,180.2 602.4,179.5 604.4,178.8 606.4,178.2 608.4,177.5 610.4,176.8 612.4,176.2 614.4,175.5 616.4,174.9 618.4,174.3 620.4,173.7 622.4,173.1 624.4,172.5 626.4,171.9 628.4,171.4 630.4,170.8 632.4,170.2 634.4,169.7 636.4,169.2 638.4,168.6 640.4,168.1 642.4,167.6 644.4,167.0 646.4,166.5 648.4,166.0 650.4,165.5 652.4,165.0 654.4,164.4 656.4,163.9 658.4,163.4 660.4,162.9 662.4,162.3 664.4,161.8 666.4,161.3 668.4,160.7 670.4,160.2 672.4,159.6 674.4,159.1 676.4,158.5 678.4,157.9 680.4,157.3 682.4,156.8 684.4,156.2 686.4,155.6 688.4,155.0 690.4,154.4 692.4,153.9 694.4,153.3 696.4,152.7 698.4,152.1 700.4,151.5 702.4,150.9 704.4,150.4 706.4,149.8 708.4,149.2 710.4,148.6 712.4,148.1 714.4,147.5 716.4,147.0 718.4,146.4 720.4,145.9 722.4,145.3 724.4,144.8 726.4,144.2 728.4,143.7 730.4,143.2 732.4,142.7 734.4,142.1 736.4,141.6 738.4,141.1 740.4,140.6 742.4,140.1 744.4,139.6 746.4,139.0 748.4,138.5 750.4,138.0 752.4,137.5 754.4,137.0 756.4,136.4 758.4,135.9 760.4,135.4 762.4,134.8 764.4,134.3 766.4,133.8 768.4,133.2 770.4,132.7 772.4,132.1 774.4,131.5 776.4,131.0 778.4,130.4 780.4,129.8 782.4,129.2 784.4,128.6 786.4,128.0 788.4,127.4 790.4,126.8" fill="none" stroke="#ff0000" stroke-width="1.5" stroke-linejoin="round" stroke-linecap="round"/>
<g fill="#0000ff"><circle cx="112.7" cy="160.7" r="1.6"/><circle cx="115.5" cy="188.7" r="1.6"/><circle cx="118.3" cy="159.2" r="1.6"/><circle cx="121.2" cy="163.9" r="1.6"/><circle cx="124.0" cy="169.9" r="1.6"/><circle cx="126.8" cy="157.6" r="1.6"/><circle cx="129.7" cy="143.0" r="1.6"/><circle cx="132.5" cy="144.2" r="1.6"/><circle cx="135.3" cy="152.4" r="1.6"/><circle cx="138.2" cy="148.4" r="1.6"/><circle cx="141.0" cy="139.2" r="1.6"/><circle cx="143.9" cy="141.3" r="1.6"/><circle cx="146.7" cy="147.5" r="1.6"/><circle cx="149.5" cy="143.7" r="1.6"/><circle cx="152.4" cy="144.2" r="1.6"/><circle cx="155.2" cy="147.1" r="1.6"/><circle cx="158.0" cy="150.2" r="1.6"/><circle cx="160.9" cy="148.0" r="1.6"/><circle cx="163.7" cy="146.2" r="1.6"/><circle cx="166.5" cy="148.6" r="1.6"/><circle cx="169.4" cy="147.3" r="1.6"/><circle cx="172.2" cy="147.7" r="1.6"/><circle cx="175.1" cy="147.7" r="1.6"/><circle cx="177.9" cy="146.4" r="1.6"/><circle cx="180.7" cy="147.5" r="1.6"/><circle cx="183.6" cy="150.4" r="1.6"/><circle cx="186.4" cy="148.9" r="1.6"/><circle cx="189.2" cy="142.8" r="1.6"/><circle cx="192.1" cy="148.6" r="1.6"/><circle cx="194.9" cy="148.9" r="1.6"/><circle cx="197.7" cy="148.0" r="1.6"/><circle cx="200.6" cy="151.3" r="1.6"/><circle cx="203.4" cy="149.3" r="1.6"/><circle cx="206.3" cy="150.4" r="1.6"/><circle cx="209.1" cy="152.0" r="1.6"/><circle cx="211.9" cy="154.0" r="1.6"/><circle cx="214.8" cy="148.6" r="1.6"/><circle cx="217.6" cy="148.0" r="1.6"/><circle cx="220.4" cy="157.2" r="1.6"/><circle cx="223.3" cy="170.4" r="1.6"/><circle cx="226.1" cy="159.0" r="1.6"/><circle cx="228.9" cy="150.5" r="1.6"/><circle cx="231.8" cy="158.3" r="1.6"/><circle cx="234.6" cy="164.1" r="1.6"/><circle cx="237.5" cy="163.4" r="1.6"/><circle cx="240.3" cy="168.8" r="1.6"/><circle cx="243.1" cy="172.1" r="1.6"/><circle cx="246.0" cy="171.5" r="1.6"/><circle cx="248.8" cy="168.8" r="1.6"/><circle cx="251.6" cy="163.6" r="1.6"/><circle cx="254.5" cy="165.8" r="1.6"/><circle cx="257.3" cy="170.8" r="1.6"/><circle cx="260.1" cy="170.8" r="1.6"/><circle cx="263.0" cy="177.2" r="1.6"/><circle cx="265.8" cy="186.7" r="1.6"/><circle cx="268.7" cy="175.9" r="1.6"/><circle cx="271.5" cy="171.4" r="1.6"/><circle cx="274.3" cy="178.3" r="1.6"/><circle cx="277.2" cy="174.5" r="1.6"/><circle cx="280.0" cy="176.8" r="1.6"/><circle cx="282.8" cy="176.4" r="1.6"/><circle cx="285.7" cy="177.5" r="1.6"/><circle cx="288.5" cy="184.9" r="1.6"/><circle cx="291.3" cy="197.2" r="1.6"/><circle cx="294.2" cy="192.7" r="1.6"/><circle cx="297.0" cy="198.0" r="1.6"/><circle cx="299.9" cy="201.6" r="1.6"/><circle cx="302.7" cy="198.5" r="1.6"/><circle cx="305.5" cy="203.6" r="1.6"/><circle cx="308.4" cy="192.2" r="1.6"/><circle cx="311.2" cy="184.9" r="1.6"/><circle cx="314.0" cy="173.6" r="1.6"/><circle cx="316.9" cy="175.2" r="1.6"/><circle cx="319.7" cy="202.7" r="1.6"/><circle cx="322.5" cy="214.2" r="1.6"/><circle cx="325.4" cy="213.0" r="1.6"/><circle cx="328.2" cy="210.2" r="1.6"/><circle cx="331.1" cy="213.5" r="1.6"/><circle cx="333.9" cy="211.3" r="1.6"/><circle cx="336.7" cy="224.2" r="1.6"/><circle cx="339.6" cy="198.3" r="1.6"/><circle cx="342.4" cy="190.9" r="1.6"/><circle cx="345.2" cy="214.0" r="1.6"/><circle cx="348.1" cy="211.1" r="1.6"/><circle cx="350.9" cy="230.1" r="1.6"/><circle cx="353.7" cy="206.3" r="1.6"/><circle cx="356.6" cy="193.6" r="1.6"/><circle cx="359.4" cy="224.0" r="1.6"/><circle cx="362.3" cy="219.3" r="1.6"/><circle cx="365.1" cy="199.8" r="1.6"/><circle cx="367.9" cy="213.7" r="1.6"/><circle cx="370.8" cy="213.3" r="1.6"/><circle cx="373.6" cy="196.9" r="1.6"/><circle cx="376.4" cy="215.8" r="1.6"/><circle cx="379.3" cy="235.4" r="1.6"/><circle cx="382.1" cy="245.4" r="1.6"/><circle cx="384.9" cy="245.4" r="1.6"/><circle cx="387.8" cy="233.6" r="1.6"/><circle cx="390.6" cy="239.5" r="1.6"/><circle cx="393.5" cy="230.8" r="1.6"/><circle cx="396.3" cy="206.3" r="1.6"/><circle cx="399.1" cy="212.8" r="1.6"/><circle cx="402.0" cy="204.2" r="1.6"/><circle cx="404.8" cy="199.7" r="1.6"/><circle cx="407.6" cy="217.1" r="1.6"/><circle cx="410.5" cy="216.9" r="1.6"/><circle cx="413.3" cy="214.2" r="1.6"/><circle cx="416.1" cy="221.4" r="1.6"/><circle cx="419.0" cy="213.6" r="1.6"/><circle cx="421.8" cy="224.1" r="1.6"/><circle cx="424.7" cy="209.8" r="1.6"/><circle cx="427.5" cy="199.9" r="1.6"/><circle cx="430.3" cy="191.6" r="1.6"/><circle cx="433.2" cy="193.9" r="1.6"/><circle cx="436.0" cy="205.3" r="1.6"/><circle cx="438.8" cy="193.9" r="1.6"/><circle cx="441.7" cy="201.1" r="1.6"/><circle cx="444.5" cy="207.5" r="1.6"/><circle cx="447.3" cy="203.7" r="1.6"/><circle cx="450.2" cy="197.9" r="1.6"/><circle cx="453.0" cy="178.0" r="1.6"/><circle cx="455.9" cy="172.2" r="1.6"/><circle cx="458.7" cy="181.6" r="1.6"/><circle cx="461.5" cy="187.8" r="1.6"/><circle cx="464.4" cy="180.4" r="1.6"/><circle cx="467.2" cy="166.8" r="1.6"/><circle cx="470.0" cy="163.0" r="1.6"/><circle cx="472.9" cy="159.4" r="1.6"/><circle cx="475.7" cy="150.9" r="1.6"/><circle cx="478.5" cy="151.4" r="1.6"/><circle cx="481.4" cy="163.9" r="1.6"/><circle cx="484.2" cy="171.7" r="1.6"/><circle cx="487.1" cy="173.1" r="1.6"/><circle cx="489.9" cy="170.1" r="1.6"/><circle cx="492.7" cy="172.0" r="1.6"/><circle cx="495.6" cy="174.0" r="1.6"/><circle cx="498.4" cy="179.8" r="1.6"/><circle cx="501.2" cy="175.5" r="1.6"/><circle cx="504.1" cy="177.5" r="1.6"/><circle cx="506.9" cy="171.0" r="1.6"/><circle cx="509.7" cy="163.6" r="1.6"/><circle cx="512.6" cy="166.3" r="1.6"/><circle cx="515.4" cy="178.9" r="1.6"/><circle cx="518.3" cy="171.7" r="1.6"/><circle cx="521.1" cy="171.9" r="1.6"/><circle cx="523.9" cy="173.0" r="1.6"/><circle cx="526.8" cy="182.4" r="1.6"/><circle cx="529.6" cy="173.3" r="1.6"/><circle cx="532.4" cy="176.2" r="1.6"/><circle cx="535.3" cy="175.8" r="1.6"/><circle cx="538.1" cy="177.1" r="1.6"/><circle cx="540.9" cy="168.4" r="1.6"/><circle cx="543.8" cy="162.8" r="1.6"/><circle cx="546.6" cy="164.5" r="1.6"/><circle cx="549.5" cy="158.1" r="1.6"/><circle cx="552.3" cy="157.2" r="1.6"/><circle cx="555.1" cy="156.9" r="1.6"/><circle cx="558.0" cy="154.2" r="1.6"/><circle cx="560.8" cy="148.4" r="1.6"/><circle cx="563.6" cy="141.5" r="1.6"/><circle cx="566.5" cy="141.0" r="1.6"/><circle cx="569.3" cy="138.4" r="1.6"/><circle cx="572.1" cy="142.1" r="1.6"/><circle cx="575.0" cy="141.5" r="1.6"/><circle cx="577.8" cy="138.3" r="1.6"/><circle cx="580.7" cy="134.5" r="1.6"/><circle cx="583.5" cy="142.8" r="1.6"/><circle cx="586.3" cy="143.7" r="1.6"/><circle cx="589.2" cy="136.6" r="1.6"/><circle cx="592.0" cy="133.4" r="1.6"/><circle cx="594.8" cy="145.7" r="1.6"/><circle cx="597.7" cy="141.3" r="1.6"/><circle cx="600.5" cy="126.1" r="1.6"/><circle cx="603.3" cy="126.1" r="1.6"/><circle cx="606.2" cy="135.4" r="1.6"/><circle cx="609.0" cy="125.1" r="1.6"/><circle cx="611.9" cy="124.2" r="1.6"/><circle cx="614.7" cy="131.6" r="1.6"/><circle cx="617.5" cy="128.7" r="1.6"/><circle cx="620.4" cy="121.1" r="1.6"/><circle cx="623.2" cy="119.1" r="1.6"/><circle cx="626.0" cy="124.3" r="1.6"/><circle cx="628.9" cy="118.6" r="1.6"/><circle cx="631.7" cy="114.2" r="1.6"/><circle cx="634.5" cy="115.5" r="1.6"/><circle cx="637.4" cy="114.2" r="1.6"/><circle cx="640.2" cy="116.4" r="1.6"/><circle cx="643.1" cy="117.7" r="1.6"/><circle cx="645.9" cy="117.5" r="1.6"/><circle cx="648.7" cy="116.7" r="1.6"/><circle cx="651.6" cy="125.4" r="1.6"/><circle cx="654.4" cy="120.9" r="1.6"/><circle cx="657.2" cy="114.4" r="1.6"/><circle cx="660.1" cy="115.3" r="1.6"/><circle cx="662.9" cy="111.7" r="1.6"/><circle cx="665.7" cy="106.1" r="1.6"/><circle cx="668.6" cy="111.9" r="1.6"/><circle cx="671.4" cy="115.1" r="1.6"/><circle cx="674.3" cy="114.8" r="1.6"/><circle cx="677.1" cy="110.1" r="1.6"/><circle cx="679.9" cy="106.4" r="1.6"/><circle cx="682.8" cy="109.3" r="1.6"/><circle cx="685.6" cy="105.2" r="1.6"/><circle cx="688.4" cy="100.8" r="1.6"/><circle cx="691.3" cy="98.8" r="1.6"/><circle cx="694.1" cy="103.7" r="1.6"/><circle cx="696.9" cy="107.8" r="1.6"/><circle cx="699.8" cy="100.2" r="1.6"/><circle cx="702.6" cy="101.4" r="1.6"/><circle cx="705.5" cy="104.9" r="1.6"/><circle cx="708.3" cy="106.5" r="1.6"/><circle cx="711.1" cy="105.6" r="1.6"/><circle cx="714.0" cy="100.5" r="1.6"/><circle cx="716.8" cy="100.2" r="1.6"/><circle cx="719.6" cy="99.3" r="1.6"/><circle cx="722.5" cy="94.4" r="1.6"/><circle cx="725.3" cy="96.7" r="1.6"/><circle cx="728.1" cy="104.0" r="1.6"/><circle cx="731.0" cy="101.4" r="1.6"/><circle cx="733.8" cy="93.3" r="1.6"/><circle cx="736.7" cy="91.5" r="1.6"/><circle cx="739.5" cy="100.3" r="1.6"/><circle cx="742.3" cy="99.6" r="1.6"/><circle cx="745.2" cy="95.3" r="1.6"/><circle cx="748.0" cy="93.1" r="1.6"/><circle cx="750.8" cy="94.9" r="1.6"/><circle cx="753.7" cy="99.3" r="1.6"/><circle cx="756.5" cy="93.5" r="1.6"/><circle cx="759.3" cy="88.1" r="1.6"/><circle cx="762.2" cy="88.1" r="1.6"/><circle cx="765.0" cy="89.9" r="1.6"/><circle cx="767.9" cy="85.0" r="1.6"/><circle cx="770.7" cy="71.1" r="1.6"/><circle cx="773.5" cy="61.5" r="1.6"/><circle cx="776.4" cy="54.3" r="1.6"/><circle cx="779.2" cy="46.3" r="1.6"/><circle cx="782.0" cy="45.4" r="1.6"/><circle cx="784.9" cy="51.2" r="1.6"/><circle cx="787.7" cy="49.4" r="1.6"/></g>
<polyline points="110.4,154.6 112.4,153.8 114.4,153.0 116.4,152.2 118.4,151.5 120.4,150.9 122.4,150.3 124.4,149.7 126.4,149.2 128.4,148.8 130.4,148.4 132.4,148.0 134.4,147.7 136.4,147.4 138.4,147.1 140.4,146.9 142.4,146.7 144.4,146.6 146.4,146.4 148.4,146.4 150.4,146.3 152.4,146.3 154.4,146.3 156.4,146.3 158.4,146.4 160.4,146.4 162.4,146.5 164.4,146.6 166.4,146.8 168.4,146.9 170.4,147.1 172.4,147.3 174.4,147.5 176.4,147.8 178.4,148.0 180.4,148.3 182.4,148.6 184.4,148.9 186.4,149.3 188.4,149.7 190.4,150.1 192.4,150.5 194.4,150.9 196.4,151.4 198.4,151.8 200.4,152.3 202.4,152.9 204.4,153.4 206.4,154.0 208.4,154.6 210.4,155.2 212.4,155.8 214.4,156.5 216.4,157.1 218.4,157.8 220.4,158.5 222.4,159.2 224.4,159.9 226.4,160.6 228.4,161.3 230.4,162.0 232.4,162.7 234.4,163.5 236.4,164.2 238.4,164.9 240.4,165.6 242.4,166.4 244.4,167.1 246.4,167.8 248.4,168.6 250.4,169.4 252.4,170.1 254.4,171.0 256.4,171.8 258.4,172.7 260.4,173.6 262.4,174.6 264.4,175.6 266.4,176.5 268.4,177.5 270.4,178.5 272.4,179.5 274.4,180.6 276.4,181.6 278.4,182.6 280.4,183.6 282.4,184.6 284.4,185.6 286.4,186.6 288.4,187.6 290.4,188.6 292.4,189.6 294.4,190.6 296.4,191.6 298.4,192.5 300.4,193.5 302.4,194.4 304.4,195.3 306.4,196.2 308.4,197.1 310.4,197.9 312.4,198.8 314.4,199.6 316.4,200.4 318.4,201.3 320.4,202.1 322.4,202.8 324.4,203.6 326.4,204.4 328.4,205.2 330.4,205.9 332.4,206.7 334.4,207.4 336.4,208.2 338.4,208.9 340.4,209.7 342.4,210.4 344.4,211.2 346.4,211.9 348.4,212.7 350.4,213.4 352.4,214.1 354.4,214.8 356.4,215.4 358.4,216.1 360.4,216.7 362.4,217.3 364.4,217.8 366.4,218.4 368.4,218.8 370.4,219.3 372.4,219.7 374.4,220.0 376.4,220.3 378.4,220.6 380.4,220.8 382.4,220.9 384.4,221.0 386.4,221.1 388.4,221.1 390.4,221.0 392.4,221.0 394.4,220.8 396.4,220.7 398.4,220.5 400.4,220.2 402.4,219.9 404.4,219.6 406.4,219.3 408.4,218.9 410.4,218.4 412.4,218.0 414.4,217.5 416.4,217.0 418.4,216.5 420.4,215.9 422.4,215.3 424.4,214.7 426.4,214.0 428.4,213.4 430.4,212.7 432.4,212.0 434.4,211.3 436.4,210.5 438.4,209.8 440.4,209.0 442.4,208.2 444.4,207.4 446.4,206.6 448.4,205.8 450.4,204.9 452.4,204.1 454.4,203.3 456.4,202.4 458.4,201.5 460.4,200.7 462.4,199.8 464.4,198.9 466.4,198.0 468.4,197.1 470.4,196.2 472.4,195.3 474.4,194.3 476.4,193.4 478.4,192.5 480.4,191.5 482.4,190.6 484.4,189.6 486.4,188.7 488.4,187.7 490.4,186.7 492.4,185.7 494.4,184.8 496.4,183.8 498.4,182.8 500.4,181.8 502.4,180.8 504.4,179.8 506.4,178.8 508.4,177.7 510.4,176.7 512.4,175.7 514.4,174.7 516.4,173.6 518.4,172.6 520.4,171.6 522.4,170.5 524.4,169.5 526.4,168.5 528.4,167.4 530.4,166.4 532.4,165.3 534.4,164.3 536.4,163.2 538.4,162.2 540.4,161.1 542.4,160.0 544.4,159.0 546.4,157.9 548.4,156.9 550.4,155.9 552.4,154.8 554.4,153.8 556.4,152.8 558.4,151.8 560.4,150.8 562.4,149.8 564.4,148.9 566.4,148.0 568.4,147.1 570.4,146.2 572.4,145.3 574.4,144.5 576.4,143.6 578.4,142.8 580.4,142.0 582.4,141.1 584.4,140.3 586.4,139.5 588.4,138.7 590.4,137.9 592.4,137.1 594.4,136.4 596.4,135.6 598.4,134.8 600.4,134.1 602.4,133.3 604.4,132.6 606.4,131.9 608.4,131.2 610.4,130.4 612.4,129.7 614.4,129.0 616.4,128.3 618.4,127.6 620.4,126.9 622.4,126.2 624.4,125.6 626.4,124.9 628.4,124.2 630.4,123.6 632.4,122.9 634.4,122.3 636.4,121.6 638.4,121.0 640.4,120.4 642.4,119.7 644.4,119.1 646.4,118.5 648.4,117.9 650.4,117.3 652.4,116.7 654.4,116.2 656.4,115.6 658.4,115.0 660.4,114.5 662.4,113.9 664.4,113.4 666.4,112.9 668.4,112.3 670.4,111.8 672.4,111.3 674.4,110.8 676.4,110.3 678.4,109.8 680.4,109.3 682.4,108.9 684.4,108.4 686.4,107.9 688.4,107.4 690.4,106.9 692.4,106.4 694.4,105.9 696.4,105.4 698.4,104.9 700.4,104.4 702.4,103.8 704.4,103.3 706.4,102.8 708.4,102.3 710.4,101.9 712.4,101.4 714.4,100.9 716.4,100.5 718.4,100.1 720.4,99.6 722.4,99.2 724.4,98.8 726.4,98.4 728.4,98.0 730.4,97.6 732.4,97.3 734.4,96.9 736.4,96.5 738.4,96.1 740.4,95.8 742.4,95.4 744.4,95.1 746.4,94.7 748.4,94.4 750.4,94.0 752.4,93.7 754.4,93.4 756.4,93.0 758.4,92.7 760.4,92.3 762.4,92.0 764.4,91.6 766.4,91.3 768.4,90.9 770.4,90.6 772.4,90.2 774.4,89.9 776.4,89.5 778.4,89.1 780.4,88.8 782.4,88.4 784.4,88.0 786.4,87.6 788.4,87.2 790.4,86.8" fill="none" stroke="#0000ff" stroke-width="1.5" stroke-linejoin="round" stroke-linecap="round"/>
</g>
<g stroke="#000" stroke-width="1.3" fill="none" stroke-linecap="butt">
<rect x="100.0" y="35.4" width="714.4" height="357.1" stroke-width="1.4"/>
<line x1="126.0" y1="392.5" x2="126.0" y2="389.3"/><line x1="126.0" y1="35.4" x2="126.0" y2="38.6"/>
<line x1="152.0" y1="392.5" x2="152.0" y2="386.5"/><line x1="152.0" y1="35.4" x2="152.0" y2="41.4"/>
<line x1="177.9" y1="392.5" x2="177.9" y2="389.3"/><line x1="177.9" y1="35.4" x2="177.9" y2="38.6"/>
<line x1="203.9" y1="392.5" x2="203.9" y2="389.3"/><line x1="203.9" y1="35.4" x2="203.9" y2="38.6"/>
<line x1="229.9" y1="392.5" x2="229.9" y2="389.3"/><line x1="229.9" y1="35.4" x2="229.9" y2="38.6"/>
<line x1="255.9" y1="392.5" x2="255.9" y2="389.3"/><line x1="255.9" y1="35.4" x2="255.9" y2="38.6"/>
<line x1="281.8" y1="392.5" x2="281.8" y2="386.5"/><line x1="281.8" y1="35.4" x2="281.8" y2="41.4"/>
<line x1="307.8" y1="392.5" x2="307.8" y2="389.3"/><line x1="307.8" y1="35.4" x2="307.8" y2="38.6"/>
<line x1="333.8" y1="392.5" x2="333.8" y2="389.3"/><line x1="333.8" y1="35.4" x2="333.8" y2="38.6"/>
<line x1="359.8" y1="392.5" x2="359.8" y2="389.3"/><line x1="359.8" y1="35.4" x2="359.8" y2="38.6"/>
<line x1="385.8" y1="392.5" x2="385.8" y2="389.3"/><line x1="385.8" y1="35.4" x2="385.8" y2="38.6"/>
<line x1="411.7" y1="392.5" x2="411.7" y2="386.5"/><line x1="411.7" y1="35.4" x2="411.7" y2="41.4"/>
<line x1="437.7" y1="392.5" x2="437.7" y2="389.3"/><line x1="437.7" y1="35.4" x2="437.7" y2="38.6"/>
<line x1="463.7" y1="392.5" x2="463.7" y2="389.3"/><line x1="463.7" y1="35.4" x2="463.7" y2="38.6"/>
<line x1="489.7" y1="392.5" x2="489.7" y2="389.3"/><line x1="489.7" y1="35.4" x2="489.7" y2="38.6"/>
<line x1="515.7" y1="392.5" x2="515.7" y2="389.3"/><line x1="515.7" y1="35.4" x2="515.7" y2="38.6"/>
<line x1="541.6" y1="392.5" x2="541.6" y2="386.5"/><line x1="541.6" y1="35.4" x2="541.6" y2="41.4"/>
<line x1="567.6" y1="392.5" x2="567.6" y2="389.3"/><line x1="567.6" y1="35.4" x2="567.6" y2="38.6"/>
<line x1="593.6" y1="392.5" x2="593.6" y2="389.3"/><line x1="593.6" y1="35.4" x2="593.6" y2="38.6"/>
<line x1="619.6" y1="392.5" x2="619.6" y2="389.3"/><line x1="619.6" y1="35.4" x2="619.6" y2="38.6"/>
<line x1="645.5" y1="392.5" x2="645.5" y2="389.3"/><line x1="645.5" y1="35.4" x2="645.5" y2="38.6"/>
<line x1="671.5" y1="392.5" x2="671.5" y2="386.5"/><line x1="671.5" y1="35.4" x2="671.5" y2="41.4"/>
<line x1="697.5" y1="392.5" x2="697.5" y2="389.3"/><line x1="697.5" y1="35.4" x2="697.5" y2="38.6"/>
<line x1="723.5" y1="392.5" x2="723.5" y2="389.3"/><line x1="723.5" y1="35.4" x2="723.5" y2="38.6"/>
<line x1="749.5" y1="392.5" x2="749.5" y2="389.3"/><line x1="749.5" y1="35.4" x2="749.5" y2="38.6"/>
<line x1="775.4" y1="392.5" x2="775.4" y2="389.3"/><line x1="775.4" y1="35.4" x2="775.4" y2="38.6"/>
<line x1="801.4" y1="392.5" x2="801.4" y2="386.5"/><line x1="801.4" y1="35.4" x2="801.4" y2="41.4"/>
<line x1="100.0" y1="366.3" x2="106.0" y2="366.3"/><line x1="814.4" y1="366.3" x2="808.4" y2="366.3"/>
<line x1="100.0" y1="347.7" x2="103.2" y2="347.7"/><line x1="814.4" y1="347.7" x2="811.1999999999999" y2="347.7"/>
<line x1="100.0" y1="333.2" x2="103.2" y2="333.2"/><line x1="814.4" y1="333.2" x2="811.1999999999999" y2="333.2"/>
<line x1="100.0" y1="321.4" x2="103.2" y2="321.4"/><line x1="814.4" y1="321.4" x2="811.1999999999999" y2="321.4"/>
<line x1="100.0" y1="311.5" x2="103.2" y2="311.5"/><line x1="814.4" y1="311.5" x2="811.1999999999999" y2="311.5"/>
<line x1="100.0" y1="302.8" x2="103.2" y2="302.8"/><line x1="814.4" y1="302.8" x2="811.1999999999999" y2="302.8"/>
<line x1="100.0" y1="295.2" x2="103.2" y2="295.2"/><line x1="814.4" y1="295.2" x2="811.1999999999999" y2="295.2"/>
<line x1="100.0" y1="288.4" x2="106.0" y2="288.4"/><line x1="814.4" y1="288.4" x2="808.4" y2="288.4"/>
<line x1="100.0" y1="243.6" x2="103.2" y2="243.6"/><line x1="814.4" y1="243.6" x2="811.1999999999999" y2="243.6"/>
<line x1="100.0" y1="217.4" x2="106.0" y2="217.4"/><line x1="814.4" y1="217.4" x2="808.4" y2="217.4"/>
<line x1="100.0" y1="198.8" x2="103.2" y2="198.8"/><line x1="814.4" y1="198.8" x2="811.1999999999999" y2="198.8"/>
<line x1="100.0" y1="184.3" x2="103.2" y2="184.3"/><line x1="814.4" y1="184.3" x2="811.1999999999999" y2="184.3"/>
<line x1="100.0" y1="172.5" x2="103.2" y2="172.5"/><line x1="814.4" y1="172.5" x2="811.1999999999999" y2="172.5"/>
<line x1="100.0" y1="162.6" x2="103.2" y2="162.6"/><line x1="814.4" y1="162.6" x2="811.1999999999999" y2="162.6"/>
<line x1="100.0" y1="153.9" x2="103.2" y2="153.9"/><line x1="814.4" y1="153.9" x2="811.1999999999999" y2="153.9"/>
<line x1="100.0" y1="146.3" x2="103.2" y2="146.3"/><line x1="814.4" y1="146.3" x2="811.1999999999999" y2="146.3"/>
<line x1="100.0" y1="139.5" x2="106.0" y2="139.5"/><line x1="814.4" y1="139.5" x2="808.4" y2="139.5"/>
<line x1="100.0" y1="94.7" x2="103.2" y2="94.7"/><line x1="814.4" y1="94.7" x2="811.1999999999999" y2="94.7"/>
<line x1="100.0" y1="68.4" x2="106.0" y2="68.4"/><line x1="814.4" y1="68.4" x2="808.4" y2="68.4"/>
<line x1="100.0" y1="49.8" x2="103.2" y2="49.8"/><line x1="814.4" y1="49.8" x2="811.1999999999999" y2="49.8"/>
</g>
<g style="opacity:0.999">
<text transform="translate(151.61,414.8) scale(1,1)" font-size="18.5" text-anchor="middle">8</text>
<text transform="translate(281.50,414.8) scale(1,1)" font-size="18.5" text-anchor="middle">9</text>
<text transform="translate(411.39,414.8) scale(1,1)" font-size="18.5" text-anchor="middle">10</text>
<text transform="translate(541.28,414.8) scale(1,1)" font-size="18.5" text-anchor="middle">11</text>
<text transform="translate(671.17,414.8) scale(1,1)" font-size="18.5" text-anchor="middle">12</text>
<text transform="translate(801.06,414.8) scale(1,1)" font-size="18.5" text-anchor="middle">13</text>
<text transform="translate(91.5,74.7) scale(1.0,1)" font-size="18.5" text-anchor="end">0.300</text>
<text transform="translate(91.5,145.8) scale(1.0,1)" font-size="18.5" text-anchor="end">0.100</text>
<text transform="translate(91.5,223.7) scale(1.0,1)" font-size="18.5" text-anchor="end">0.030</text>
<text transform="translate(91.5,294.7) scale(1.0,1)" font-size="18.5" text-anchor="end">0.010</text>
<text transform="translate(91.5,372.6) scale(1.0,1)" font-size="18.5" text-anchor="end">0.003</text>
<text transform="translate(421.4,447.3) scale(1.0,1)" font-size="18.5">&#955;<tspan font-size="12.2" dy="4">rest</tspan><tspan dy="-4"> (&#956;m)</tspan></text>
<g transform="translate(20.6,239.9) rotate(-90) scale(0.97,1)"><text x="0" y="0" font-size="18.5">f<tspan font-size="12.2" dy="4">&#957;</tspan><tspan dy="-4"> (Jy)</tspan></text></g>
</g>
<path d="M140.20 9.89 L140.20 20.50 M148.29 9.89 L148.29 20.50 M140.20 14.95 L148.29 14.95 M152.04 20.07 L152.04 19.73 L152.40 19.07 L152.75 18.73 L153.47 18.40 L154.90 18.40 L155.62 18.73 L155.98 19.07 L156.34 19.73 L156.34 20.40 L155.98 21.07 L155.26 22.07 L151.68 25.40 L156.70 25.40" fill="none" stroke="#828282" stroke-width="1.25" stroke-linecap="round" stroke-linejoin="round"/>
<path d="M172.50 9.89 L172.50 20.50 M172.50 9.89 L177.70 9.89 L179.44 10.40 L180.01 10.90 L180.59 11.91 L180.59 13.43 L180.01 14.44 L179.44 14.95 L177.70 15.45 L172.50 15.45 M187.53 9.89 L182.90 20.50 M187.53 9.89 L192.15 20.50 M184.64 16.96 L190.42 16.96 M195.04 9.89 L195.04 20.50 M203.13 9.89 L203.13 20.50 M195.04 14.95 L203.13 14.95" fill="none" stroke="#828282" stroke-width="1.25" stroke-linecap="round" stroke-linejoin="round"/>
<path d="M217.80 9.89 L217.80 20.50 M217.80 9.89 L223.00 9.89 L224.74 10.40 L225.31 10.90 L225.89 11.91 L225.89 13.43 L225.31 14.44 L224.74 14.95 L223.00 15.45 L217.80 15.45 M232.83 9.89 L228.20 20.50 M232.83 9.89 L237.45 20.50 M229.94 16.96 L235.72 16.96 M240.34 9.89 L240.34 20.50 M248.43 9.89 L248.43 20.50 M240.34 14.95 L248.43 14.95" fill="none" stroke="#828282" stroke-width="1.25" stroke-linecap="round" stroke-linejoin="round"/>
<path d="M263.60 6.61 L263.60 25.40 M264.18 6.61 L264.18 25.40 M263.60 6.61 L267.65 6.61 M263.60 25.40 L267.65 25.40 M274.58 9.89 L269.96 20.50 M274.58 9.89 L279.21 20.50 M271.69 16.96 L277.47 16.96 M282.10 13.43 L282.10 20.50 M282.10 16.46 L282.67 14.95 L283.83 13.93 L284.99 13.43 L286.72 13.43 M289.61 9.89 L289.61 20.50 M294.23 9.89 L294.23 20.50 M298.86 9.89 L298.86 20.50 M306.37 6.61 L306.37 25.40 M306.95 6.61 L306.95 25.40 M302.90 6.61 L306.95 6.61 M302.90 25.40 L306.95 25.40" fill="none" stroke="#828282" stroke-width="1.25" stroke-linecap="round" stroke-linejoin="round"/>
<path d="M360.90 9.89 L360.90 20.50 M368.99 9.89 L368.99 20.50 M360.90 14.95 L368.99 14.95 M372.74 20.07 L372.74 19.73 L373.10 19.07 L373.45 18.73 L374.17 18.40 L375.60 18.40 L376.32 18.73 L376.68 19.07 L377.04 19.73 L377.04 20.40 L376.68 21.07 L375.96 22.07 L372.38 25.40 L377.40 25.40" fill="none" stroke="#828282" stroke-width="1.25" stroke-linecap="round" stroke-linejoin="round"/>
<path d="M438.80 9.89 L438.80 20.50 M446.89 9.89 L446.89 20.50 M438.80 14.95 L446.89 14.95 M450.64 20.07 L450.64 19.73 L451.00 19.07 L451.35 18.73 L452.07 18.40 L453.50 18.40 L454.22 18.73 L454.58 19.07 L454.94 19.73 L454.94 20.40 L454.58 21.07 L453.86 22.07 L450.28 25.40 L455.30 25.40" fill="none" stroke="#828282" stroke-width="1.25" stroke-linecap="round" stroke-linejoin="round"/>
<path d="M471.30 6.61 L471.30 25.40 M471.88 6.61 L471.88 25.40 M471.30 6.61 L475.35 6.61 M471.30 25.40 L475.35 25.40 M486.91 11.41 L485.75 10.40 L484.02 9.89 L481.70 9.89 L479.97 10.40 L478.81 11.41 L478.81 12.42 L479.39 13.43 L479.97 13.93 L481.13 14.44 L484.59 15.45 L485.75 15.96 L486.33 16.46 L486.91 17.47 L486.91 18.98 L485.75 20.00 L484.02 20.50 L481.70 20.50 L479.97 20.00 L478.81 18.98 M490.95 9.89 L490.95 20.50 M493.84 9.89 L498.47 20.50 M503.09 9.89 L498.47 20.50 M508.87 6.61 L508.87 25.40 M509.45 6.61 L509.45 25.40 M505.40 6.61 L509.45 6.61 M505.40 25.40 L509.45 25.40" fill="none" stroke="#828282" stroke-width="1.25" stroke-linecap="round" stroke-linejoin="round"/>
<path d="M555.80 9.89 L555.80 20.50 M555.80 9.89 L561.00 9.89 L562.74 10.40 L563.31 10.90 L563.89 11.91 L563.89 13.43 L563.31 14.44 L562.74 14.95 L561.00 15.45 L555.80 15.45 M570.83 9.89 L566.20 20.50 M570.83 9.89 L575.45 20.50 M567.94 16.96 L573.72 16.96 M578.34 9.89 L578.34 20.50 M586.43 9.89 L586.43 20.50 M578.34 14.95 L586.43 14.95" fill="none" stroke="#828282" stroke-width="1.25" stroke-linecap="round" stroke-linejoin="round"/>
<path d="M653.40 9.89 L653.40 20.50 M653.40 9.89 L658.60 9.89 L660.34 10.40 L660.91 10.90 L661.49 11.91 L661.49 13.43 L660.91 14.44 L660.34 14.95 L658.60 15.45 L653.40 15.45 M668.43 9.89 L663.80 20.50 M668.43 9.89 L673.05 20.50 M665.54 16.96 L671.32 16.96 M675.94 9.89 L675.94 20.50 M684.03 9.89 L684.03 20.50 M675.94 14.95 L684.03 14.95" fill="none" stroke="#828282" stroke-width="1.25" stroke-linecap="round" stroke-linejoin="round"/>
<path d="M724.90 9.89 L724.90 20.50 M724.90 9.89 L730.10 9.89 L731.84 10.40 L732.41 10.90 L732.99 11.91 L732.99 13.43 L732.41 14.44 L731.84 14.95 L730.10 15.45 L724.90 15.45 M739.93 9.89 L735.30 20.50 M739.93 9.89 L744.55 20.50 M737.04 16.96 L742.82 16.96 M747.44 9.89 L747.44 20.50 M755.53 9.89 L755.53 20.50 M747.44 14.95 L755.53 14.95" fill="none" stroke="#828282" stroke-width="1.25" stroke-linecap="round" stroke-linejoin="round"/>
<path d="M770.40 6.61 L770.40 25.40 M770.98 6.61 L770.98 25.40 M770.40 6.61 L774.45 6.61 M770.40 25.40 L774.45 25.40 M778.49 9.89 L778.49 20.50 M778.49 9.89 L786.58 20.50 M786.58 9.89 L786.58 20.50 M790.63 16.46 L797.57 16.46 L797.57 15.45 L796.99 14.44 L796.41 13.93 L795.25 13.43 L793.52 13.43 L792.36 13.93 L791.21 14.95 L790.63 16.46 L790.63 17.47 L791.21 18.98 L792.36 20.00 L793.52 20.50 L795.25 20.50 L796.41 20.00 L797.57 18.98 M801.61 9.89 L801.61 20.50 M806.24 9.89 L806.24 20.50 M813.75 6.61 L813.75 25.40 M814.33 6.61 L814.33 25.40 M810.28 6.61 L814.33 6.61 M810.28 25.40 L814.33 25.40" fill="none" stroke="#828282" stroke-width="1.25" stroke-linecap="round" stroke-linejoin="round"/>
</svg>
</body></html>
